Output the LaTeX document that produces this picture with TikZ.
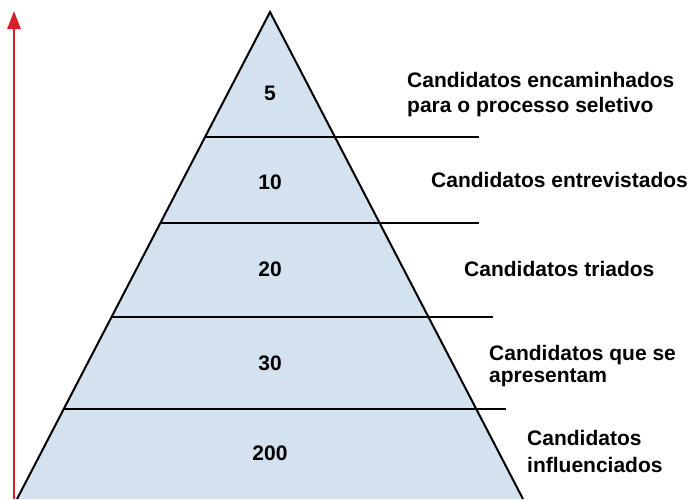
\documentclass[tikz,border=0pt]{standalone}
\usepackage{fontspec}
\setmainfont{Liberation Sans}
\usetikzlibrary{arrows.meta}
\definecolor{pyrfill}{RGB}{212,225,239}
\definecolor{arrowred}{RGB}{214,31,38}

\begin{document}
\begin{tikzpicture}[x=1pt,y=-1pt]
\tikzstyle{band}=[line width=2pt, draw=black]
\tikzstyle{num}=[font=\fontsize{21}{25}\selectfont\bfseries, anchor=base, inner sep=0pt]
\tikzstyle{stage}=[font=\fontsize{21}{25}\selectfont\bfseries, anchor=base west, align=left, inner sep=0pt]
\tikzstyle{up}=[-{Triangle[length=18pt,width=13pt]}, line width=2.5pt, draw=arrowred]
  \useasboundingbox (0,0) rectangle (692,499);
  \coordinate (apex) at (270,12);
  \coordinate (bl) at (17,499);
  \coordinate (br) at (523,499);
  \fill[pyrfill] (apex) -- (bl) -- (br) -- cycle;
  % band lines
  \coordinate (l1) at (205.3,136.5);  \coordinate (r1) at (479,136.5);
  \coordinate (l2) at (160.4,223);    \coordinate (r2) at (479,223);
  \coordinate (l3) at (111.8,316.5);  \coordinate (r3) at (493,316.5);
  \coordinate (l4) at (63.8,409);     \coordinate (r4) at (506,409);
  \draw[band] (l1) -- (r1);
  \draw[band] (l2) -- (r2);
  \draw[band] (l3) -- (r3);
  \draw[band] (l4) -- (r4);
  \draw[band, line join=miter] (bl) -- (apex) -- (br);
  \node[num] (n5) at (270,100.7) {5};
  \node[num] (n10) at (270,189) {10};
  \node[num] (n20) at (270,276.7) {20};
  \node[num] (n30) at (270,370.7) {30};
  \node[num] (n200) at (270,460) {200};
  % base anchor sits on the last line
  \node[stage] (encaminhados) at (407,112) {Candidatos encaminhados\\para o processo seletivo};
  \node[stage] (entrevistados) at (431,187.7) {Candidatos entrevistados};
  \node[stage] (triados) at (464,276) {Candidatos triados};
  \node[stage] (apresentam) at (489,382) {Candidatos que se\\[-3pt]apresentam};
  \node[stage] (influenciados) at (527,472) {Candidatos\\[2pt]influenciados};
  \coordinate (foot) at (14,499);
  \coordinate (top) at (14,11);
  \draw[up] (foot) -- (top);
\end{tikzpicture}
\end{document}
